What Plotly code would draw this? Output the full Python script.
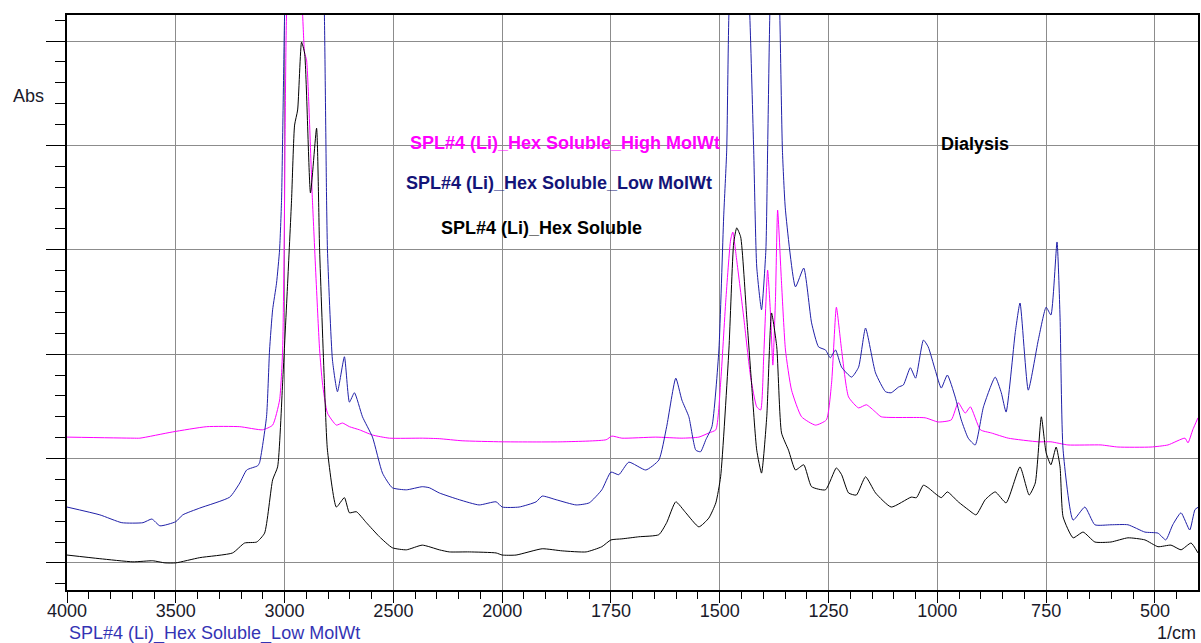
import numpy as np
import plotly.graph_objects as go

# ---- data (wavenumber in 1/cm, absorbance) ----
wn_hex = [4000, 3849, 3697, 3606, 3550, 3500, 3390, 3239, 3184, 3128, 3092, 3055, 3032, 3009, 2986, 2968,
          2954, 2940, 2922, 2908, 2881, 2853, 2839, 2817, 2803, 2762, 2725, 2702, 2670, 2624, 2564, 2505,
          2440, 2367, 2289, 2243, 2151, 2028, 2000, 1968, 1908, 1862, 1807, 1771, 1750, 1725, 1686, 1640,
          1622, 1601, 1578, 1548, 1525, 1509, 1498, 1479, 1468, 1461, 1452, 1438, 1427, 1415, 1404, 1392,
          1381, 1369, 1358, 1342, 1326, 1307, 1289, 1257, 1232, 1220, 1204, 1186, 1165, 1142, 1106, 1060,
          1048, 1032, 1021, 991, 977, 952, 929, 911, 890, 867, 842, 810, 789, 775, 761, 750, 739, 727, 718,
          711, 688, 665, 638, 601, 562, 523, 493, 463, 440, 417, 401]
abs_hex = [0.015, 0.008, 0.002, 0.004, 0.000, 0.000, 0.010, 0.019, 0.038, 0.040, 0.057, 0.159, 0.184, 0.345,
           0.536, 0.695, 0.839, 0.868, 0.998, 0.977, 0.709, 0.833, 0.600, 0.345, 0.216, 0.107, 0.125, 0.096,
           0.098, 0.077, 0.050, 0.029, 0.025, 0.034, 0.025, 0.021, 0.021, 0.019, 0.015, 0.015, 0.027, 0.023,
           0.021, 0.031, 0.044, 0.046, 0.050, 0.054, 0.077, 0.117, 0.096, 0.069, 0.086, 0.115, 0.165, 0.408,
           0.613, 0.642, 0.625, 0.471, 0.345, 0.216, 0.172, 0.280, 0.479, 0.414, 0.249, 0.216, 0.178, 0.188,
           0.146, 0.140, 0.182, 0.169, 0.134, 0.130, 0.165, 0.134, 0.107, 0.126, 0.125, 0.149, 0.144, 0.125,
           0.136, 0.117, 0.102, 0.092, 0.121, 0.136, 0.115, 0.184, 0.130, 0.153, 0.280, 0.211, 0.188, 0.222,
           0.184, 0.088, 0.048, 0.059, 0.040, 0.040, 0.048, 0.044, 0.031, 0.034, 0.025, 0.038, 0.019]

wn_low = [4000, 3849, 3748, 3651, 3610, 3573, 3500, 3468, 3390, 3252, 3206, 3174, 3124, 3115, 3083, 3069,
          3055, 3037, 3023, 3014, 3000, 2985, 2950, 2920, 2880, 2850, 2830, 2817, 2807, 2803, 2780, 2757,
          2725, 2702, 2679, 2642, 2596, 2550, 2505, 2440, 2367, 2335, 2289, 2197, 2106, 2028, 2000, 1961,
          1922, 1908, 1876, 1830, 1800, 1771, 1750, 1732, 1709, 1670, 1640, 1622, 1601, 1587, 1571, 1555,
          1544, 1532, 1518, 1502, 1491, 1484, 1479, 1456, 1431, 1422, 1415, 1404, 1394, 1390, 1385, 1374,
          1362, 1356, 1349, 1326, 1307, 1289, 1273, 1257, 1246, 1234, 1220, 1197, 1181, 1165, 1142, 1119,
          1106, 1089, 1078, 1062, 1050, 1032, 1021, 1005, 991, 977, 959, 945, 929, 913, 894, 867, 853, 842,
          821, 810, 791, 768, 750, 739, 725, 718, 711, 688, 661, 638, 601, 562, 523, 493, 475, 459, 440,
          420, 408, 400]
abs_low = [0.107, 0.092, 0.077, 0.077, 0.084, 0.071, 0.079, 0.092, 0.105, 0.126, 0.153, 0.178, 0.186, 0.192,
           0.280, 0.408, 0.485, 0.536, 0.600, 0.695, 1.050, 1.300, 1.500, 1.650, 1.500, 1.550, 1.300, 1.050,
           0.695, 0.600, 0.389, 0.328, 0.395, 0.308, 0.326, 0.280, 0.241, 0.172, 0.144, 0.140, 0.146, 0.144,
           0.134, 0.121, 0.111, 0.117, 0.107, 0.107, 0.117, 0.128, 0.121, 0.111, 0.115, 0.140, 0.174, 0.169,
           0.193, 0.178, 0.197, 0.261, 0.354, 0.312, 0.280, 0.216, 0.213, 0.236, 0.261, 0.408, 0.663, 0.791,
           1.050, 1.500, 1.050, 0.791, 0.567, 0.485, 0.600, 0.791, 1.050, 1.400, 1.050, 0.791, 0.676, 0.529,
           0.565, 0.460, 0.414, 0.408, 0.393, 0.408, 0.375, 0.356, 0.375, 0.450, 0.364, 0.328, 0.326, 0.337,
           0.341, 0.374, 0.354, 0.427, 0.414, 0.370, 0.335, 0.360, 0.318, 0.274, 0.239, 0.226, 0.299, 0.356,
           0.326, 0.289, 0.441, 0.498, 0.331, 0.427, 0.490, 0.475, 0.615, 0.471, 0.216, 0.082, 0.107, 0.073,
           0.073, 0.073, 0.059, 0.057, 0.044, 0.073, 0.096, 0.063, 0.102, 0.107]

wn_high = [4000, 3697, 3665, 3514, 3358, 3206, 3101, 3055, 3023, 3009, 3000, 2991, 2954, 2917, 2908, 2899,
           2872, 2839, 2826, 2803, 2762, 2734, 2702, 2656, 2596, 2518, 2367, 2289, 2184, 2000, 1862, 1761,
           1748, 1725, 1647, 1587, 1548, 1525, 1509, 1498, 1486, 1475, 1470, 1461, 1445, 1429, 1415, 1406,
           1399, 1390, 1383, 1378, 1372, 1367, 1358, 1349, 1335, 1312, 1280, 1255, 1243, 1232, 1220, 1204,
           1181, 1163, 1142, 1129, 1028, 998, 968, 952, 936, 924, 901, 876, 837, 768, 739, 700, 624, 585,
           509, 470, 431, 424, 413, 401]
abs_high = [0.241, 0.239, 0.239, 0.251, 0.261, 0.261, 0.255, 0.264, 0.312, 0.408, 0.695, 1.050, 1.350, 1.050,
            0.977, 0.964, 0.695, 0.408, 0.345, 0.287, 0.264, 0.268, 0.261, 0.255, 0.245, 0.239, 0.239, 0.238,
            0.234, 0.232, 0.232, 0.236, 0.243, 0.239, 0.241, 0.239, 0.241, 0.249, 0.255, 0.345, 0.504, 0.619,
            0.634, 0.580, 0.471, 0.356, 0.299, 0.293, 0.395, 0.561, 0.471, 0.379, 0.504, 0.676, 0.536, 0.408,
            0.331, 0.280, 0.264, 0.274, 0.345, 0.490, 0.408, 0.318, 0.297, 0.303, 0.289, 0.280, 0.278, 0.270,
            0.274, 0.307, 0.287, 0.299, 0.255, 0.249, 0.239, 0.232, 0.232, 0.226, 0.226, 0.222, 0.222, 0.226,
            0.239, 0.230, 0.255, 0.278]

tick_wn = [4000, 3500, 3000, 2500, 2000, 1750, 1500, 1250, 1000, 750, 500]

name_high = "SPL#4 (Li)_Hex Soluble_High MolWt"
name_low = "SPL#4 (Li)_Hex Soluble_Low MolWt"
name_hex = "SPL#4 (Li)_Hex Soluble"


# IR spectrometer axis: 500 1/cm per division above 2000, 250 1/cm per division below
def to_u(wn):
    wn = np.asarray(wn, dtype=float)
    return np.where(wn >= 2000, (4000 - wn) / 500.0, 4 + (2000 - wn) / 250.0)


fig = go.Figure()
line_shape = dict(width=1, shape="spline", smoothing=0.5)
fig.add_trace(go.Scatter(x=to_u(wn_high), y=abs_high, mode="lines", name=name_high,
                         line=dict(color="#ff00ff", **line_shape)))
fig.add_trace(go.Scatter(x=to_u(wn_low), y=abs_low, mode="lines", name=name_low,
                         line=dict(color="#2020a8", **line_shape)))
fig.add_trace(go.Scatter(x=to_u(wn_hex), y=abs_hex, mode="lines", name=name_hex,
                         line=dict(color="#000000", **line_shape)))

grid = "#8c8c8c"
fig.update_xaxes(range=[0, float(to_u(401))], tickvals=to_u(tick_wn).tolist(),
                 ticktext=[str(t) for t in tick_wn], ticks="outside", ticklen=11, tickcolor="#000",
                 showgrid=True, gridcolor=grid, gridwidth=1, zeroline=False,
                 showline=True, linecolor="#000", linewidth=1.5, mirror=True,
                 minor=dict(tick0=0, dtick=0.2, ticks="outside", ticklen=7, tickcolor="#000", showgrid=False),
                 tickfont=dict(family="Liberation Sans, Arial", size=18, color="#1a1a2a"))
try:
    fig.update_xaxes(ticklabelstandoff=-7)
except Exception:
    fig.update_xaxes(ticklen=5)
fig.update_yaxes(range=[-0.052, 1.05], tick0=0, dtick=0.2, ticks="outside", ticklen=19, tickcolor="#000",
                 showticklabels=False, showgrid=True, gridcolor=grid, gridwidth=1, zeroline=False,
                 showline=True, linecolor="#000", linewidth=1.5, mirror=True,
                 minor=dict(tick0=0, dtick=0.04, ticks="outside", ticklen=10, tickcolor="#000", showgrid=False))

# white label boxes that interrupt the grid (drawn under the spectra)
boxes = [(0.2877, 0.594, 0.7548, 0.7948), (0.2877, 0.5808, 0.6852, 0.7339),
         (0.3204, 0.519, 0.5983, 0.6643), (0.7087, 0.8985, 0.753, 0.80)]
for x0, x1, y0, y1 in boxes:
    fig.add_shape(type="rect", xref="paper", yref="paper", x0=x0, x1=x1, y0=y0, y1=y1,
                  fillcolor="white", line=dict(width=0), layer="between")

bold = dict(family="Liberation Sans, Arial", size=18)
labels = [(name_high, 0.4404, 0.7774, "#ff00ff"), (name_low, 0.4351, 0.7078, "#141478"),
          (name_hex, 0.4197, 0.6296, "#000000"), ("Dialysis", 0.8027, 0.7757, "#000000")]
for txt, x, y, c in labels:
    fig.add_annotation(text="<b>" + txt + "</b>", xref="paper", yref="paper", x=x, y=y,
                       xanchor="center", yanchor="middle", showarrow=False,
                       font=dict(color=c, **bold))

reg = dict(family="Liberation Sans, Arial", size=18)
fig.add_annotation(text="Abs", xref="paper", yref="paper", x=-0.0344, y=0.859, xanchor="center",
                   yanchor="middle", showarrow=False, font=dict(color="#1a1a2a", **reg))
fig.add_annotation(text="1/cm", xref="paper", yref="paper", x=1.0, y=-0.075, xanchor="right",
                   yanchor="middle", showarrow=False, font=dict(color="#1a1a2a", **reg))
fig.add_annotation(text=name_low, xref="paper", yref="paper", x=0.0, y=-0.075, xanchor="left",
                   yanchor="middle", showarrow=False, font=dict(color="#3434b4", **reg))

fig.update_layout(width=1201, height=643, margin=dict(l=67, r=1, t=15, b=53),
                  paper_bgcolor="white", plot_bgcolor="white", showlegend=False)

fig.write_html("out.html")
